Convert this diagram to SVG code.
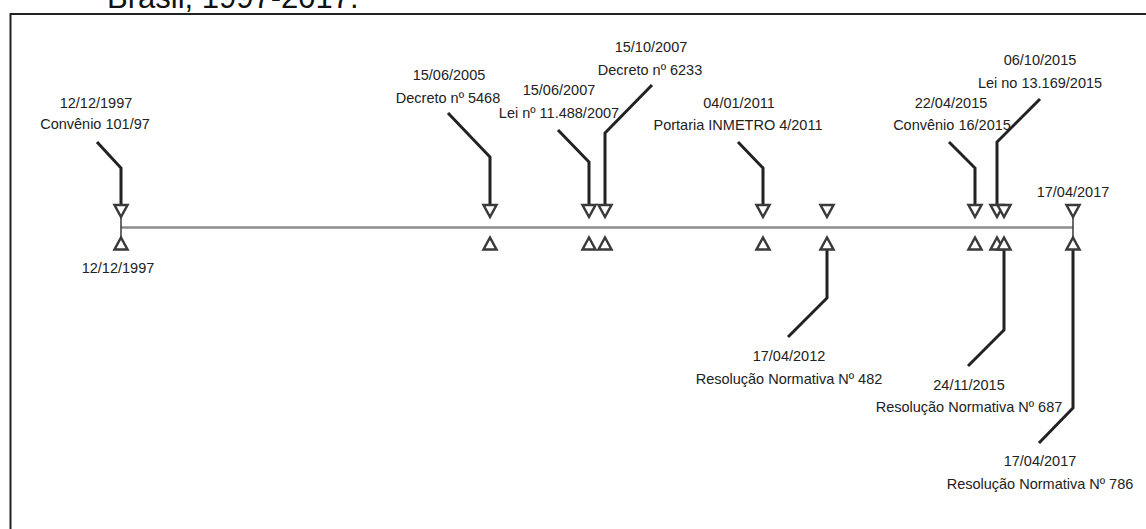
<svg xmlns="http://www.w3.org/2000/svg" width="1146" height="529" viewBox="0 0 1146 529">
<style>
text{font-family:"Liberation Sans",Arial,sans-serif;fill:#222;}
.lbl{font-size:14.5px;text-anchor:middle;}
.title{font-size:31px;fill:#111;}
.conn{fill:none;stroke:#222;stroke-width:3;stroke-linejoin:miter;}
.tri{fill:#fff;stroke:#3a3a3a;stroke-width:2.5;stroke-linejoin:miter;}
.tick{stroke:#3a3a3a;stroke-width:1.5;}
.axis{stroke:#8c8c8c;stroke-width:2.5;}
</style>
<defs>
<path id="dn" class="tri" d="M-6.5,205 H6.5 L0,217 Z"/>
<path id="up" class="tri" d="M0,237.5 L6.5,249.5 H-6.5 Z"/>
</defs>
<rect width="1146" height="529" fill="#fff"/>
<text class="title" x="107" y="8">Brasil, 1997-2017.</text>
<rect x="10.5" y="14" width="1200" height="600" fill="none" stroke="#222" stroke-width="2"/>

<g id="axis">
<line class="axis" x1="121" y1="227.5" x2="1073" y2="227.5"/>
<line class="tick" x1="121" y1="216" x2="121" y2="238"/>
<line class="tick" x1="1073" y1="216" x2="1073" y2="238"/>
</g>

<g id="connectors">
<polyline class="conn" points="97,142 121,168 121,205"/>
<polyline class="conn" points="448,113 490,157 490,205"/>
<polyline class="conn" points="558,130 589,162 589,205"/>
<polyline class="conn" points="652,85 605,133 605,205"/>
<polyline class="conn" points="738,142 763,168 763,205"/>
<polyline class="conn" points="949,142 975,168 975,205"/>
<polyline class="conn" points="1040,99 997,142 997,205"/>
<polyline class="conn" points="827,250 827,298 788,337"/>
<polyline class="conn" points="1004,250 1004,330 968,366"/>
<polyline class="conn" points="1073,250 1073,408 1039,443"/>
</g>

<g id="n1997">
<use href="#dn" x="121"/><use href="#up" x="121"/>
<text class="lbl" x="96" y="108">12/12/1997</text>
<text class="lbl" x="95" y="129">Convênio 101/97</text>
<text class="lbl" x="118" y="273">12/12/1997</text>
</g>
<g id="n2005">
<use href="#dn" x="490"/><use href="#up" x="490"/>
<text class="lbl" x="449" y="80">15/06/2005</text>
<text class="lbl" x="448" y="103">Decreto nº 5468</text>
</g>
<g id="n2007a">
<use href="#dn" x="589"/><use href="#up" x="589"/>
<text class="lbl" x="559" y="95">15/06/2007</text>
<text class="lbl" x="559" y="118">Lei nº 11.488/2007</text>
</g>
<g id="n2007b">
<use href="#dn" x="605"/><use href="#up" x="605"/>
<text class="lbl" x="651" y="52">15/10/2007</text>
<text class="lbl" x="650" y="75">Decreto nº 6233</text>
</g>
<g id="n2011">
<use href="#dn" x="763"/><use href="#up" x="763"/>
<text class="lbl" x="739" y="108">04/01/2011</text>
<text class="lbl" x="738" y="130">Portaria INMETRO 4/2011</text>
</g>
<g id="n2012">
<use href="#dn" x="827"/><use href="#up" x="827"/>
<text class="lbl" x="789" y="361">17/04/2012</text>
<text class="lbl" x="789" y="384">Resolução Normativa Nº 482</text>
</g>
<g id="n2015a">
<use href="#dn" x="975"/><use href="#up" x="975"/>
<text class="lbl" x="951" y="108">22/04/2015</text>
<text class="lbl" x="952" y="130">Convênio 16/2015</text>
</g>
<g id="n2015b">
<use href="#dn" x="997"/><use href="#up" x="997"/>
<text class="lbl" x="1040" y="65">06/10/2015</text>
<text class="lbl" x="1040" y="88">Lei no 13.169/2015</text>
</g>
<g id="n2015c">
<use href="#dn" x="1004"/><use href="#up" x="1004"/>
<text class="lbl" x="969" y="390">24/11/2015</text>
<text class="lbl" x="969" y="412">Resolução Normativa Nº 687</text>
</g>
<g id="n2017">
<use href="#dn" x="1073"/><use href="#up" x="1073"/>
<text class="lbl" x="1073" y="197">17/04/2017</text>
<text class="lbl" x="1040" y="466">17/04/2017</text>
<text class="lbl" x="1040" y="489">Resolução Normativa Nº 786</text>
</g>
</svg>
